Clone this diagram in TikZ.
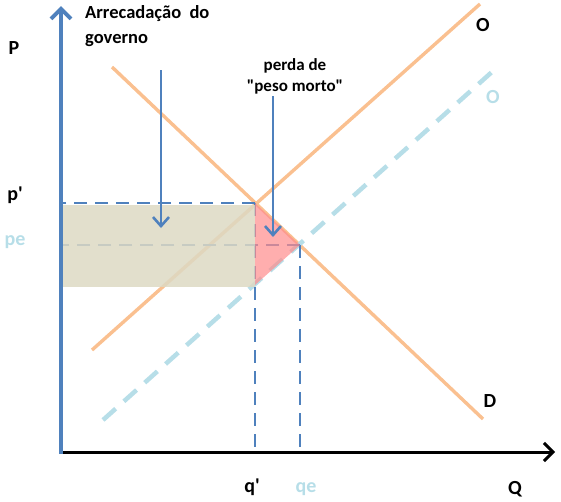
\documentclass[tikz,border=0pt]{standalone}
\usepackage{fontspec}
\setmainfont{Carlito}[Ligatures=TeXOff]
\usetikzlibrary{arrows.meta}
\definecolor{ofertaorange}{HTML}{FAC090}
\definecolor{ofertablue}{HTML}{B7DEE8}
\definecolor{eixoblue}{HTML}{4F81BD}
\definecolor{receitafill}{HTML}{DDD9C3}
\definecolor{perdapink}{HTML}{FF8C8C}

\begin{document}
\begin{tikzpicture}[x=1pt,y=-1pt,
  curva/.style={ofertaorange,line width=3.4pt},
  tracejado/.style={eixoblue,line width=2.8pt,dash pattern=on 13pt off 8pt},
  seta/.style={eixoblue,line width=2.6pt,-{Straight Barb[length=9pt,width=16pt]}},
  rotulo/.style={font=\fontsize{20}{22}\selectfont\bfseries}]
  \useasboundingbox (0,0) rectangle (561,501);
  % pontos de equilibrio
  \coordinate (origem) at (61,452);
  \coordinate (Eimp) at (255,203);
  \coordinate (Eeq) at (300,245);
  % curvas de oferta e demanda
  \draw[curva] (92,350) -- (480,4);
  \draw[curva] (112,67) -- (483,419);
  \draw[ofertablue,line width=4.5pt,dash pattern=on 17pt off 11pt] (103,420) -- (493,71);
  % linhas de referencia
  \draw[tracejado] (Eimp) -- (Eimp -| origem);
  \draw[tracejado] (Eeq) -- (Eeq -| origem);
  \draw[tracejado] (Eimp) -- (Eimp |- origem);
  \draw[tracejado] (Eeq) -- (Eeq |- origem);
  % areas
  \fill[receitafill,opacity=0.85] (61,205) rectangle (255,287);
  \fill[perdapink,opacity=0.7] (Eimp) -- (Eeq) -- (255,285) -- cycle;
  % eixos
  \draw[line width=3pt,-{Straight Barb[length=9pt,width=18pt]}] (59,452) -- (555,452);
  \draw[eixoblue,line width=4pt,-{Straight Barb[length=10pt,width=20pt]}] (61,454) -- (61,6);
  % textos
  \node[anchor=north west,align=left,inner sep=0pt,font=\fontsize{18.5}{25}\selectfont\bfseries] (arrec) at (85,5) {Arrecada\c{c}\~ao\ \ do\\governo};
  \node[align=center,inner sep=0pt,font=\fontsize{17}{21}\selectfont\bfseries] (perda) at (295,76) {perda de\\"peso morto"};
  \coordinate (arrecini) at (161,70);
  \coordinate (arrecfim) at (161,228);
  \coordinate (perdaini) at (273,96);
  \coordinate (perdafim) at (273,237);
  \draw[seta] (arrecini) -- (arrecfim);
  \draw[seta] (perdaini) -- (perdafim);
  \node[rotulo] (P) at (14,48) {P};
  \node[rotulo] (Q) at (515,489) {Q};
  \node[rotulo] (O) at (483,25) {O};
  \node[rotulo,ofertablue] (Obis) at (493,97) {O};
  \node[rotulo] (D) at (490,401) {D};
  \node[rotulo] (plinha) at (15,195) {p'};
  \node[rotulo,ofertablue] (pe) at (15,242) {pe};
  \node[rotulo] (qlinha) at (252,487) {q'};
  \node[rotulo,ofertablue] (qe) at (306,489) {qe};
\end{tikzpicture}
\end{document}
